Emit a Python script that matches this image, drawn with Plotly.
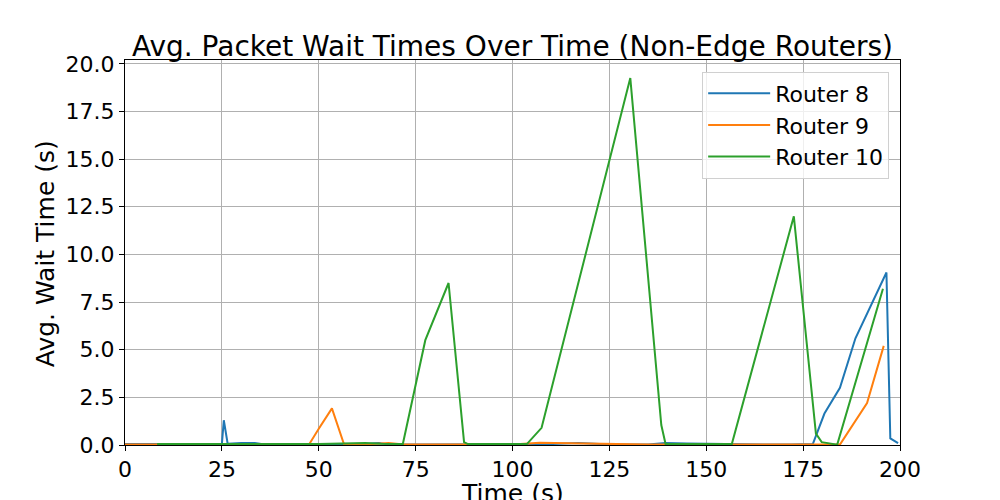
import plotly.graph_objects as go

# sample times (s) and avg. wait times (s) per router
r8_t = [0, 8, 16, 25, 25.5, 26.5, 30, 33.5, 36, 45, 55, 60, 65.5, 68, 75, 85, 95, 105,
        110, 117, 125, 135, 139.5, 145, 150, 157, 165, 172, 177.5, 180.5, 184.5, 188.5,
        196.5, 197.5, 199.5]
r8_w = [0.05, 0.04, 0.04, 0.05, 1.3, 0.06, 0.1, 0.1, 0.03, 0.02, 0.02, 0.03, 0.1, 0.03,
        0.02, 0.02, 0.02, 0.03, 0.05, 0.1, 0.03, 0.03, 0.1, 0.08, 0.06, 0.03, 0.02, 0.02,
        0.05, 1.65, 3.0, 5.6, 9.05, 0.35, 0.1]

r9_t = [0, 10, 20, 30, 40, 47.5, 50, 53.4, 56.5, 62, 68, 72, 80, 90, 100, 107, 113, 118,
        125, 135, 145, 155, 165, 175, 181, 184.5, 191.5, 195.8]
r9_w = [0.02, 0.02, 0.02, 0.02, 0.02, 0.03, 0.85, 1.92, 0.05, 0.03, 0.1, 0.02, 0.02, 0.02,
        0.02, 0.12, 0.1, 0.07, 0.03, 0.02, 0.02, 0.02, 0.02, 0.02, 0.02, 0.02, 2.2, 5.2]

r10_t = [8.3, 20, 30, 40, 50, 62, 66, 71.7, 77.5, 83.5, 87.5, 88.5, 95, 103.7, 107.5,
         130.4, 138.4, 139.5, 145, 150, 156.6, 172.6, 178.3, 179.8, 183.8, 195.6]
r10_w = [0.05, 0.05, 0.05, 0.05, 0.05, 0.1, 0.06, 0.05, 5.5, 8.5, 0.15, 0.05, 0.05, 0.05,
         0.9, 19.25, 1.05, 0.05, 0.05, 0.05, 0.05, 12.0, 0.6, 0.15, 0.02, 8.2]

series = [
    ('Router 8', r8_t, r8_w, '#1f77b4'),
    ('Router 9', r9_t, r9_w, '#ff7f0e'),
    ('Router 10', r10_t, r10_w, '#2ca02c'),
]

FONT = 'DejaVu Sans'

fig = go.Figure()
for name, t, w, color in series:
    fig.add_trace(go.Scatter(x=t, y=w, mode='lines', name=name,
                             line=dict(color=color, width=2)))

axis_common = dict(
    showline=True, linecolor='black', linewidth=1, mirror=True,
    showgrid=True, gridcolor='#b0b0b0', gridwidth=1,
    ticks='outside', ticklen=5, tickcolor='black', tickwidth=1,
    zeroline=False, tickfont=dict(family=FONT, size=22, color='black'),
)

# page body has an 8px margin, so margins are shifted to put the plot area in place
fig.update_layout(
    width=1000, height=500,
    margin=dict(l=117, r=108, t=52, b=63),
    paper_bgcolor='white', plot_bgcolor='white',
    font=dict(family=FONT, color='black'),
    title=dict(text='Avg. Packet Wait Times Over Time (Non-Edge Routers)',
               font=dict(family=FONT, size=28, color='black'),
               x=0.5, xref='paper', xanchor='center',
               y=1, yref='paper', yanchor='bottom', pad=dict(b=4)),
    xaxis=dict(range=[0, 200], dtick=25, **axis_common),
    yaxis=dict(range=[0, 20.2], dtick=2.5, tickformat='.1f', **axis_common),
    legend=dict(x=0.986, y=0.97, xanchor='right', yanchor='top',
                bgcolor='rgba(255,255,255,0.8)', bordercolor='#d0d0d0', borderwidth=1,
                font=dict(family=FONT, size=22, color='black'),
                itemwidth=62, tracegroupgap=0),
    showlegend=True,
)

fig.add_annotation(text='Time (s)', xref='paper', yref='paper', x=0.5, y=-0.085,
                   xanchor='center', yanchor='top', showarrow=False, borderpad=0,
                   font=dict(family=FONT, size=25, color='black'))
fig.add_annotation(text='Avg. Wait Time (s)', xref='paper', yref='paper', x=-0.103, y=0.496,
                   xanchor='center', yanchor='middle', showarrow=False, textangle=-90,
                   font=dict(family=FONT, size=25, color='black'))

fig.write_html('out.html')
